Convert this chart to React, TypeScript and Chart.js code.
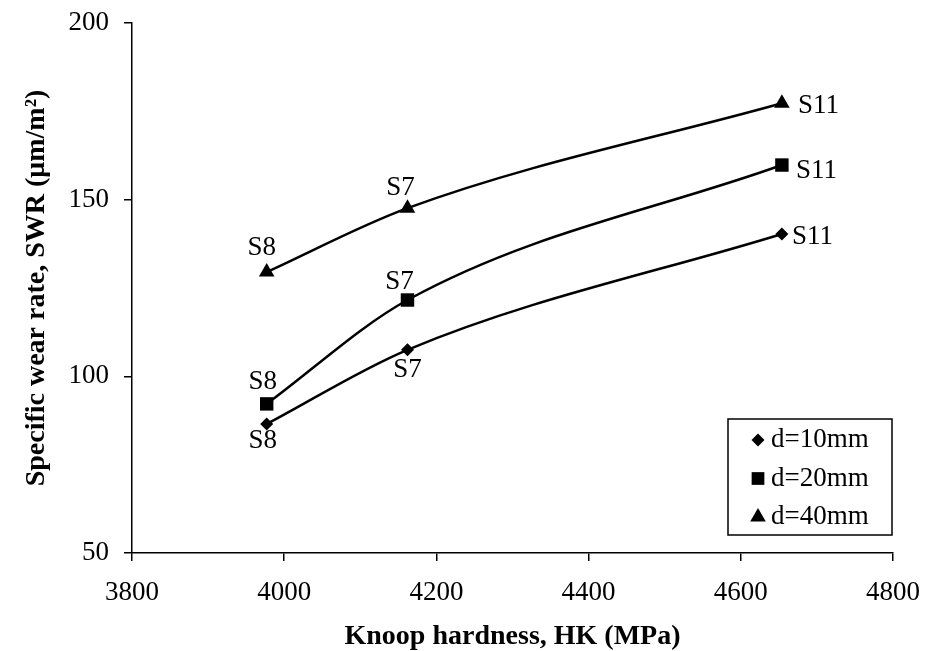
import React, { useEffect, useRef } from "react";
import { Chart, registerables } from "chart.js";

Chart.register(...registerables);

// ---- Data ----
const hardness = [3977, 4162, 4654];
const swr10 = [86.5, 107.5, 140.3];
const swr20 = [92.2, 121.6, 159.8];
const swr40 = [129.5, 147.6, 177.3];
const sampleLabels = ["S8", "S7", "S11"];
const seriesNames = ["d=10mm", "d=20mm", "d=40mm"];
const seriesStyles = ["rectRot", "rect", "triangle"];
const xTicks = [3800, 4000, 4200, 4400, 4600, 4800];
const yTicks = [50, 100, 150, 200];

const FONT = "'Liberation Serif', 'Times New Roman', serif";

// label offsets (dx, dy, align) per series / point
const labelOffsets: [number, number, CanvasTextAlign][][] = [
  [[-4, 17, "center"], [0, 20, "center"], [10, 3, "left"]],
  [[-4, -22, "center"], [-8, -18, "center"], [14, 6, "left"]],
  [[-5, -24, "center"], [-7, -20, "center"], [16, 3, "left"]],
];

function drawMarker(ctx: CanvasRenderingContext2D, style: string, x: number, y: number, r: number) {
  ctx.beginPath();
  if (style === "rectRot") {
    ctx.moveTo(x, y - r);
    ctx.lineTo(x + r, y);
    ctx.lineTo(x, y + r);
    ctx.lineTo(x - r, y);
  } else if (style === "rect") {
    const s = r * Math.SQRT1_2;
    ctx.rect(x - s, y - s, 2 * s, 2 * s);
  } else {
    const h = r * 1.5;
    const w = r * Math.sqrt(3);
    ctx.moveTo(x, y - h * 2 / 3);
    ctx.lineTo(x + w / 2, y + h / 3);
    ctx.lineTo(x - w / 2, y + h / 3);
  }
  ctx.closePath();
  ctx.fill();
}

const pointLabelPlugin = {
  id: "pointLabels",
  afterDatasetsDraw(chart: any) {
    const ctx = chart.ctx as CanvasRenderingContext2D;
    ctx.save();
    ctx.font = `27px ${FONT}`;
    ctx.fillStyle = "#000";
    ctx.textBaseline = "middle";
    chart.data.datasets.forEach((_ds: any, i: number) => {
      const meta = chart.getDatasetMeta(i);
      meta.data.forEach((pt: any, j: number) => {
        const [dx, dy, align] = labelOffsets[i][j];
        ctx.textAlign = align;
        ctx.fillText(sampleLabels[j], pt.x + dx, pt.y + dy);
      });
    });
    ctx.restore();
  },
};

const boxLegendPlugin = {
  id: "boxLegend",
  afterDraw(chart: any) {
    const ctx = chart.ctx as CanvasRenderingContext2D;
    const area = chart.chartArea;
    const w = 164;
    const h = 116;
    const right = area.right - 1;
    const bottom = area.bottom - 18;
    const left = right - w;
    const top = bottom - h;
    ctx.save();
    ctx.fillStyle = "#fff";
    ctx.fillRect(left, top, w, h);
    ctx.strokeStyle = "#000";
    ctx.lineWidth = 1.5;
    ctx.strokeRect(left, top, w, h);
    ctx.font = `27px ${FONT}`;
    ctx.textBaseline = "middle";
    ctx.textAlign = "left";
    ctx.fillStyle = "#000";
    chart.data.datasets.forEach((ds: any, i: number) => {
      const y = top + 21 + i * 38.5;
      drawMarker(ctx, seriesStyles[i], left + 30, y, i === 0 ? 6.5 : 9);
      ctx.fillText(ds.label, left + 43, y);
    });
    ctx.restore();
  },
};

export default function App() {
  const canvasRef = useRef<HTMLCanvasElement | null>(null);

  useEffect(() => {
    document.body.style.margin = "0";
    const canvas = canvasRef.current;
    if (!canvas) return;
    const series = [swr10, swr20, swr40];
    const radii = [6.5, 9.5, 9];
    const chart = new Chart(canvas, {
      type: "line",
      data: {
        datasets: series.map((vals, i) => ({
          label: seriesNames[i],
          data: hardness.map((x, j) => ({ x, y: vals[j] })),
          borderColor: "#000",
          backgroundColor: "#000",
          borderWidth: 2.5,
          pointStyle: seriesStyles[i] as any,
          pointRadius: radii[i],
          pointBackgroundColor: "#000",
          pointBorderColor: "#000",
          pointBorderWidth: 0,
          cubicInterpolationMode: "monotone" as const,
          fill: false,
        })),
      },
      options: {
        responsive: false,
        animation: false,
        layout: { padding: { top: 23, right: 40, left: 0, bottom: 0 } },
        plugins: {
          legend: { display: false },
          tooltip: { enabled: false },
        },
        scales: {
          x: {
            type: "linear",
            min: 3800,
            max: 4800,
            afterBuildTicks: (s: any) => {
              s.ticks = xTicks.map((v) => ({ value: v }));
            },
            afterFit: (s: any) => {
              s.height = 98;
              s.paddingLeft = 0;
              s.paddingRight = 0;
            },
            ticks: {
              color: "#000",
              font: { family: FONT, size: 27 },
              padding: 16,
              callback: (v: any) => String(v),
              maxRotation: 0,
            },
            grid: {
              display: true,
              drawOnChartArea: false,
              drawTicks: true,
              tickLength: 8,
              color: "#000",
              lineWidth: 1.5,
            },
            border: { display: true, color: "#000", width: 1.5 },
            title: {
              display: true,
              text: "Knoop hardness, HK (MPa)",
              color: "#000",
              font: { family: FONT, size: 28, weight: "bold", lineHeight: 1 },
              padding: { top: 0, bottom: 0 },
            },
          },
          y: {
            type: "linear",
            min: 50,
            max: 200,
            afterBuildTicks: (s: any) => {
              s.ticks = yTicks.map((v) => ({ value: v }));
            },
            afterFit: (s: any) => {
              s.width = 132;
              s.paddingTop = 0;
              s.paddingBottom = 0;
            },
            ticks: {
              color: "#000",
              font: { family: FONT, size: 27 },
              padding: 15,
              callback: (v: any) => String(v),
            },
            grid: {
              display: true,
              drawOnChartArea: false,
              drawTicks: true,
              tickLength: 8,
              color: "#000",
              lineWidth: 1.5,
            },
            border: { display: true, color: "#000", width: 1.5 },
            title: {
              display: true,
              text: "Specific wear rate, SWR (μm/m²)",
              color: "#000",
              font: { family: FONT, size: 28, weight: "bold", lineHeight: 1 },
              padding: { top: 23, bottom: 0 },
            },
          },
        },
      },
      plugins: [pointLabelPlugin, boxLegendPlugin],
    });
    return () => chart.destroy();
  }, []);

  return (
    <div style={{ position: "absolute", left: 0, top: 0, width: 933, height: 651, background: "#fff" }}>
      <canvas ref={canvasRef} width={933} height={651} />
    </div>
  );
}
